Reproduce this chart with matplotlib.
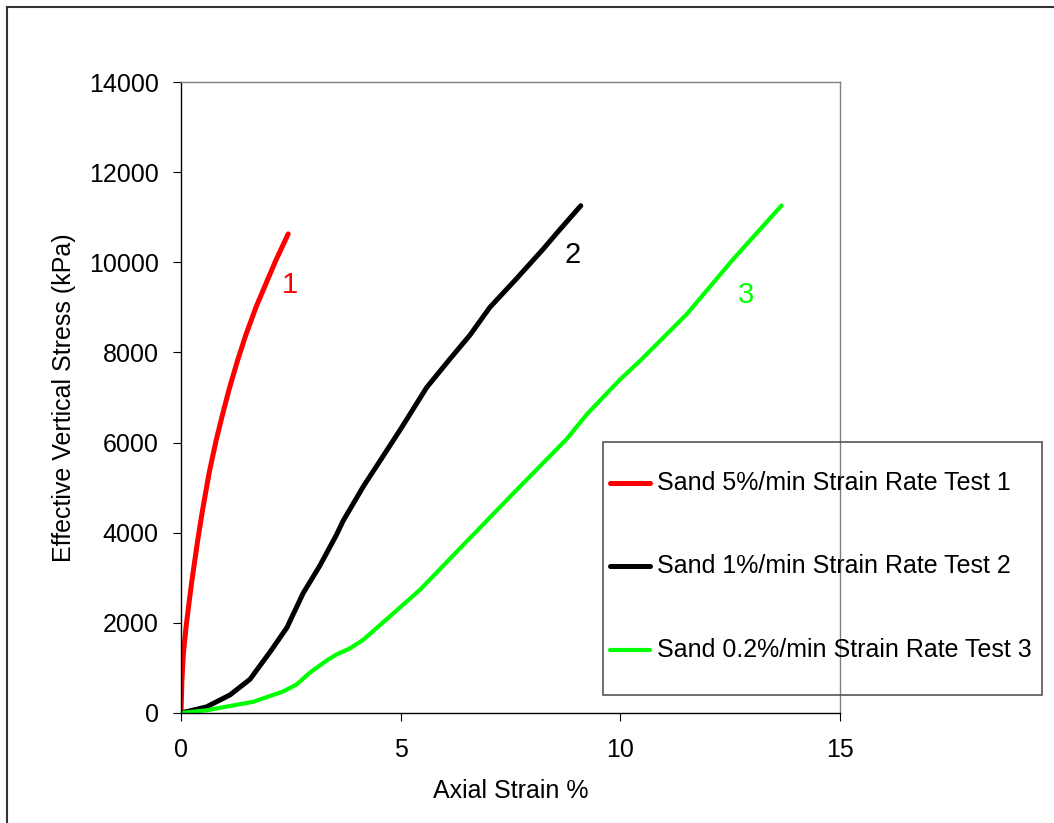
import matplotlib
matplotlib.use("Agg")
import matplotlib.pyplot as plt
from matplotlib.lines import Line2D
from matplotlib.patches import Rectangle

plt.rcParams['font.family'] = ['Liberation Sans', 'DejaVu Sans']

# ---- data ----
strain_1 = [0, 0.02, 0.053, 0.114, 0.19, 0.25, 0.38, 0.49, 0.645, 0.80, 0.95, 1.10, 1.29, 1.48, 1.71,
            1.935, 2.16, 2.44]
stress_1 = [0, 700, 1300, 1900, 2500, 2950, 3830, 4500, 5350, 6050, 6640, 7200, 7830, 8400, 9010,
            9530, 10045, 10630]

strain_2 = [0, 0.58, 1.12, 1.57, 2.03, 2.41, 2.78, 3.16, 3.54, 3.69, 4.15, 4.61, 5.0, 5.59, 6.12, 6.58,
            7.03, 7.64, 8.25, 8.6, 9.10]
stress_2 = [0, 135, 404, 748, 1358, 1893, 2658, 3268, 3956, 4263, 5026, 5714, 6300, 7220, 7853, 8388,
            9000, 9640, 10300, 10700, 11255]

strain_3 = [0, 0.58, 1.65, 2.33, 2.63, 2.94, 3.32, 3.54, 3.85, 4.15, 4.91, 5.44, 6.50, 7.64, 8.78, 9.24,
            9.99, 10.45, 11.51, 12.57, 13.67]
stress_3 = [0, 60, 250, 480, 632, 900, 1167, 1298, 1436, 1626, 2277, 2734, 3804, 4950, 6080, 6630,
            7396, 7815, 8847, 10070, 11260]

labels = ["Sand 5%/min Strain Rate Test 1",
          "Sand 1%/min Strain Rate Test 2",
          "Sand 0.2%/min Strain Rate Test 3"]
curve_tags = ["1", "2", "3"]
tag_pos = [(2.48, 9500), (8.92, 10160), (12.86, 9280)]
colors = ["#ff0000", "#000000", "#00ff00"]

x_ticks = [0, 5, 10, 15]
y_ticks = [0, 2000, 4000, 6000, 8000, 10000, 12000, 14000]

W, H = 1054, 823
fig = plt.figure(figsize=(W / 100, H / 100), dpi=100)
ax = fig.add_axes([181 / W, 1 - 713 / H, (840 - 181) / W, (713 - 82) / H])

series = [(strain_1, stress_1), (strain_2, stress_2), (strain_3, stress_3)]
lws = [3.6, 3.6, 3.0]
for (xs, ys), c, lw, lab in zip(series, colors, lws, labels):
    ax.plot(xs, ys, color=c, lw=lw, solid_capstyle='round', solid_joinstyle='round', label=lab)

for t, (tx, ty), c in zip(curve_tags, tag_pos, colors):
    ax.text(tx, ty, t, color=c, fontsize=21, ha='center', va='center')

ax.set_xlim(0, 15)
ax.set_ylim(0, 14000)
ax.set_xticks(x_ticks)
ax.set_yticks(y_ticks)
ax.tick_params(axis='both', direction='out', labelsize=18, colors='black')
ax.tick_params(axis='x', length=6, pad=12)
ax.tick_params(axis='y', length=6, pad=10)
ax.spines['top'].set_color('#808080')
ax.spines['right'].set_color('#808080')
ax.spines['left'].set_color('black')
ax.spines['bottom'].set_color('black')
for s in ax.spines.values():
    s.set_linewidth(1.0)

ax.set_xlabel("Axial Strain %", fontsize=18, labelpad=12)
ax.set_ylabel("Effective Vertical Stress (kPa)", fontsize=18, labelpad=9)

# ---- legend box drawn in figure pixel coordinates ----
box_l, box_r, box_t, box_b = 603, 1042, 442, 695
fig.add_artist(Rectangle((box_l / W, 1 - box_b / H), (box_r - box_l) / W, (box_b - box_t) / H,
                         transform=fig.transFigure, fill=False, edgecolor='#555555', lw=1.2))
row_y = [483, 566, 650]
for ry, c, lab, lw in zip(row_y, colors, labels, lws):
    fig.add_artist(Line2D([610 / W, 650 / W], [1 - ry / H, 1 - ry / H], transform=fig.transFigure,
                          color=c, lw=lw, solid_capstyle='round'))
    fig.text(657 / W, 1 - ry / H, lab, fontsize=18, va='center', ha='left')

# ---- outer border of the chart area ----
fig.add_artist(Line2D([6.5 / W, 6.5 / W], [0, 1 - 6.5 / H], transform=fig.transFigure,
                      color='#333333', lw=1.5))
fig.add_artist(Line2D([6.5 / W, 1], [1 - 6.5 / H, 1 - 6.5 / H], transform=fig.transFigure,
                      color='#333333', lw=1.5))

fig.savefig("out.png", dpi=100)
